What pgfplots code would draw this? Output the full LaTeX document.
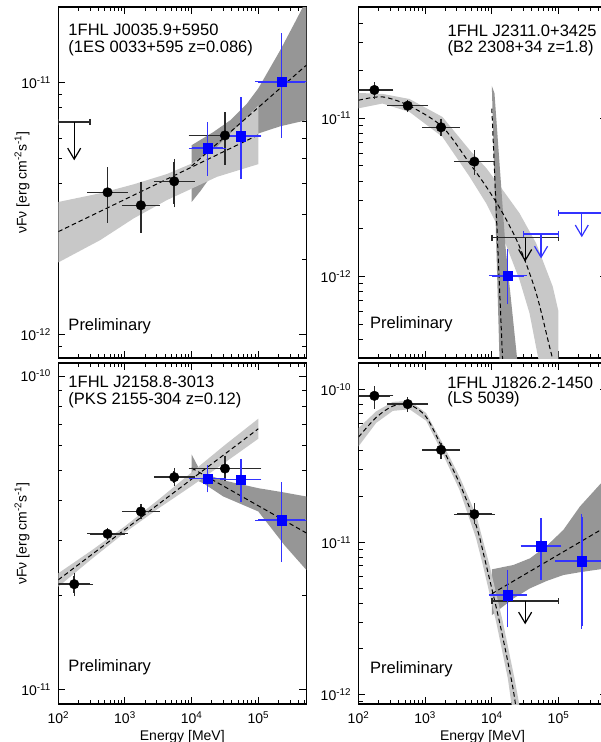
\documentclass[border=0pt]{standalone}
\usepackage{fontspec}
\setmainfont{Liberation Sans}
\usepackage{pgfplots}
\pgfplotsset{compat=1.18}
\usetikzlibrary{arrows.meta}
\definecolor{lband}{HTML}{C8C8C8}
\definecolor{dband}{HTML}{969696}
\definecolor{ebblue}{rgb}{0.2,0.2,1}
\definecolor{ebgray}{HTML}{2A2A2A}

\newcommand{\fsz}[1]{\fontsize{#1}{#1}\selectfont}

\pgfplotsset{
  /pgfplots/sedaxis/.style={
    scale only axis, width=248pt,
    xmin=100, xmax=5.25e5,
    axis line style={line width=1.3pt},
    tick style={black, line width=1pt},
    major tick length=7pt, minor tick length=4pt,
    tick align=inside, xtick pos=both, ytick pos=both,
    xtick={1e2,1e3,1e4,1e5},
    minor xtick={200,300,400,500,600,700,800,900,2000,3000,4000,5000,6000,7000,8000,9000,
      2e4,3e4,4e4,5e4,6e4,7e4,8e4,9e4,2e5,3e5,4e5,5e5},
    tick label style={font=\fsz{14}},
    xticklabel style={yshift=-4pt},
    yticklabel style={xshift=-4pt},
  },
  /pgfplots/toprow/.style={height=351pt, xticklabels={}},
  /pgfplots/botrow/.style={height=341pt,
    xticklabels={10\textsuperscript{2},10\textsuperscript{3},10\textsuperscript{4},10\textsuperscript{5}},
    xlabel={Energy [MeV]},
    xlabel style={at={(axis description cs:0.5,-0.107)}, anchor=base, font=\fsz{14}}},
  /pgfplots/leftcol/.style={
    ylabel={νFν [erg cm\textsuperscript{-2}s\textsuperscript{-1}]},
    ylabel style={at={(axis description cs:-0.146,0.5)}, anchor=center, font=\fsz{14}}},
  /pgfplots/bpts/.style={only marks, mark=*, mark size=4.8pt, black,
    error bars/x dir=both, error bars/x explicit, error bars/y dir=both, error bars/y explicit,
    error bars/error bar style={draw=ebgray, line width=1.5pt},
    error bars/error mark options={draw=ebgray, mark size=3pt, line width=1.3pt}},
  /pgfplots/qpts/.style={only marks, mark=square*, mark size=4.8pt, blue,
    error bars/x dir=both, error bars/x explicit, error bars/y dir=both, error bars/y explicit,
    error bars/error bar style={draw=ebblue, line width=1.5pt},
    error bars/error mark options={draw=ebblue, mark size=3pt, line width=1.3pt}},
  /pgfplots/ulbar/.style={line width=1.5pt, mark=|, mark size=3pt},
  /pgfplots/ularr/.style={line width=1.2pt, -{Straight Barb[length=11pt,width=13pt,line width=1.2pt]}},
  /pgfplots/fitline/.style={black, line width=1pt, dash pattern=on 4.5pt off 3pt},
}

\begin{document}
\begin{tikzpicture}

% ---------- top left: 1FHL J0035.9+5950
\begin{axis}[xmode=log, ymode=log, sedaxis, toprow, leftcol,
  at={(58.3pt,384pt)}, anchor=south west,
  ymin=8.1e-13, ymax=2e-11,
  ytick={1e-12,1e-11},
  yticklabels={10\textsuperscript{-12},10\textsuperscript{-11}},
  minor ytick={9e-13,2e-12,3e-12,4e-12,5e-12,6e-12,7e-12,8e-12,9e-12,2e-11}]
\addplot[fill=dband, draw=none] coordinates {
  (1e4,5.66e-12) (2.13e4,6.39e-12) (3.80e4,7.11e-12) (6.76e4,8.28e-12) (1e5,9.51e-12)
  (2.14e5,1.35e-11) (3.80e5,1.80e-11) (5.25e5,2.13e-11) (5.25e5,7.11e-12) (2.14e5,6.73e-12)
  (1e5,6.30e-12) (5.37e4,5.42e-12) (3.20e4,4.79e-12) (1.91e4,4.23e-12) (1.35e4,3.72e-12)
  (1e4,3.37e-12)};
\addplot[fill=lband, draw=none] coordinates {
  (100,3.37e-12) (427,3.65e-12) (1349,3.96e-12) (4266,4.35e-12) (1.01e4,4.79e-12)
  (2.40e4,5.57e-12) (1e5,8.13e-12) (1e5,4.76e-12) (2.40e4,4.24e-12) (1.01e4,3.81e-12)
  (4266,3.43e-12) (1349,2.90e-12) (427,2.38e-12) (100,1.94e-12)};
\addplot[fitline] coordinates {(100,2.57e-12) (1e5,6.22e-12)};
\addplot[fitline] coordinates {(1e4,4.68e-12) (5.25e5,1.175e-11)};
\addplot[ulbar, ebgray] coordinates {(100,7.0e-12) (300,7.0e-12)};
\addplot[ularr, black] coordinates {(173.2,7.0e-12) (173.2,4.93e-12)};
\addplot[bpts] table[x=x, y=y, x error minus=xm, x error plus=xp, y error minus=ym, y error plus=yp] {
x y xm xp ym yp
547.7 3.68e-12 247.7 452.3 0.82e-12 0.82e-12
1732 3.27e-12 732 1268 0.65e-12 0.68e-12
5477 4.07e-12 2477 4523 0.77e-12 0.79e-12
31623 6.19e-12 21623 68377 1.33e-12 1.25e-12
};
\addplot[qpts] table[x=x, y=y, x error minus=xm, x error plus=xp, y error minus=ym, y error plus=yp] {
x y xm xp ym yp
17321 5.51e-12 7321 12679 1.11e-12 1.28e-12
54772 6.15e-12 24772 45228 1.88e-12 2.39e-12
223607 1.01e-11 123607 276393 3.89e-12 5.2e-12
};
\node[anchor=north west, inner sep=0pt, align=left, font=\fontsize{16.5}{16.7}\selectfont]
  at (axis description cs:0.0403,0.9516) {1FHL J0035.9+5950\\(1ES 0033+595 z=0.086)};
\node[anchor=base west, inner sep=0pt, font=\fsz{16.5}] at (axis description cs:0.0403,0.0798) {Preliminary};
\end{axis}

% ---------- top right: 1FHL J2311.0+3425
\begin{axis}[xmode=log, ymode=log, sedaxis, toprow,
  at={(358.5pt,384pt)}, anchor=south west,
  ymin=3.05e-13, ymax=5.05e-11,
  ytick={1e-12,1e-11},
  yticklabels={10\textsuperscript{-12},10\textsuperscript{-11}},
  minor ytick={4e-13,5e-13,6e-13,7e-13,8e-13,9e-13,2e-12,3e-12,4e-12,5e-12,6e-12,7e-12,8e-12,9e-12,
    2e-11,3e-11,4e-11,5e-11}]
\addplot[fill=lband, draw=none] coordinates {
  (100,1.445e-11) (229,1.426e-11) (582,1.324e-11) (1820,1.019e-11) (4624,6.31e-12)
  (8222,4.85e-12) (14590,3.52e-12) (26000,2.51e-12) (46240,1.62e-12) (82040,8.63e-13)
  (1e5,6.0e-13) (1e5,2e-13) (6.03e4,2e-13) (51880,2.77e-13) (36730,5.86e-13)
  (26000,9.53e-13) (14590,1.79e-12) (8222,2.90e-12) (4624,4.28e-12) (1820,7.62e-12)
  (582,1.096e-11) (229,1.239e-11) (100,1.156e-11)};
\addplot[fill=dband, draw=none] coordinates {
  (1e4,1.6e-11) (1.096e4,1.44e-11) (1.603e4,1.545e-12) (2.51e4,2.5e-13) (1.318e4,2.5e-13)};
\addplot[fitline, smooth] coordinates {
  (100,1.30e-11) (229,1.365e-11) (582,1.197e-11) (1820,8.81e-12) (4624,5.2e-12)
  (8222,3.70e-12) (14590,2.51e-12) (26000,1.545e-12) (46240,7.85e-13) (73280,3.61e-13)
  (89130,2.6e-13)};
\addplot[fitline] coordinates {(1e4,1.15e-11) (1.45e4,3e-13)};
\addplot[ulbar, ebgray] coordinates {(1e4,1.76e-12) (1e5,1.76e-12)};
\addplot[ularr, black] coordinates {(31623,1.76e-12) (31623,1.24e-12)};
\addplot[ulbar, ebblue] coordinates {(3e4,1.85e-12) (1e5,1.85e-12)};
\addplot[ularr, ebblue] coordinates {(54772,1.85e-12) (54772,1.30e-12)};
\addplot[ulbar, ebblue] coordinates {(1e5,2.51e-12) (5e5,2.51e-12)};
\addplot[ularr, ebblue] coordinates {(223607,2.51e-12) (223607,1.77e-12)};
\addplot[bpts] table[x=x, y=y, x error minus=xm, x error plus=xp, y error minus=ym, y error plus=yp] {
x y xm xp ym yp
173.2 1.51e-11 73.2 126.8 0.12e-11 0.11e-11
547.7 1.20e-11 247.7 452.3 0.06e-11 0.05e-11
1732 8.77e-12 732 1268 0.73e-12 0.75e-12
5477 5.32e-12 2477 4523 0.72e-12 0.69e-12
};
\addplot[qpts] table[x=x, y=y, x error minus=xm, x error plus=xp, y error minus=ym, y error plus=yp] {
x y xm xp ym yp
17321 1.01e-12 7321 12679 3.15e-13 4.2e-13
};
\node[anchor=north east, inner sep=0pt, align=left, font=\fontsize{16.5}{15.5}\selectfont]
  at (axis description cs:0.9605,0.9487) {1FHL J2311.0+3425\\(B2 2308+34 z=1.8)};
\node[anchor=base west, inner sep=0pt, font=\fsz{16.5}] at (axis description cs:0.0464,0.0846) {Preliminary};
\end{axis}

% ---------- bottom left: 1FHL J2158.8-3013
\begin{axis}[xmode=log, ymode=log, sedaxis, botrow, leftcol,
  at={(58.3pt,38pt)}, anchor=south west,
  ymin=9e-12, ymax=1.1e-10,
  ytick={1e-11,1e-10},
  yticklabels={10\textsuperscript{-11},10\textsuperscript{-10}},
  minor ytick={2e-11,3e-11,4e-11,5e-11,6e-11,7e-11,8e-11,9e-11}]
\addplot[fill=dband, draw=none] coordinates {
  (1e4,5.62e-11) (1.26e4,5.12e-11) (1.5e4,4.90e-11) (2.99e4,4.65e-11) (1e5,4.39e-11)
  (2.5e5,4.25e-11) (5.25e5,4.13e-11) (5.25e5,2.41e-11) (2.5e5,2.88e-11) (1e5,3.70e-11)
  (2.99e4,4.13e-11) (1.5e4,4.55e-11) (1e4,4.73e-11)};
\addplot[fill=lband, draw=none] coordinates {
  (100,2.35e-11) (316.2,2.78e-11) (1000,3.32e-11) (3162,4.03e-11) (1e4,4.93e-11)
  (31623,6.03e-11) (1e5,7.31e-11) (1e5,6.31e-11) (31623,5.30e-11) (1e4,4.46e-11)
  (3162,3.78e-11) (1000,3.17e-11) (316.2,2.61e-11) (100,2.13e-11)};
\addplot[fitline] coordinates {(100,2.24e-11) (1e5,6.79e-11)};
\addplot[fitline] coordinates {(1e4,5.09e-11) (5.25e5,3.16e-11)};
\addplot[bpts] table[x=x, y=y, x error minus=xm, x error plus=xp, y error minus=ym, y error plus=yp] {
x y xm xp ym yp
173.2 2.17e-11 73.2 126.8 0.14e-11 0.14e-11
547.7 3.14e-11 247.7 452.3 0.07e-11 0.07e-11
1732 3.70e-11 732 1268 0.11e-11 0.11e-11
5477 4.76e-11 2477 4523 0.20e-11 0.21e-11
31623 5.07e-11 21623 68377 0.34e-11 0.38e-11
};
\addplot[qpts] table[x=x, y=y, x error minus=xm, x error plus=xp, y error minus=ym, y error plus=yp] {
x y xm xp ym yp
17321 4.71e-11 7321 12679 0.36e-11 0.38e-11
54772 4.67e-11 24772 45228 0.61e-11 0.65e-11
223607 3.47e-11 123607 276393 0.86e-11 1.01e-11
};
\node[anchor=north west, inner sep=0pt, align=left, font=\fontsize{16.5}{16.7}\selectfont]
  at (axis description cs:0.0403,0.9619) {1FHL J2158.8-3013\\(PKS 2155-304 z=0.12)};
\node[anchor=base west, inner sep=0pt, font=\fsz{16.5}] at (axis description cs:0.0403,0.0947) {Preliminary};
\end{axis}

% ---------- bottom right: 1FHL J1826.2-1450
\begin{axis}[xmode=log, ymode=log, sedaxis, botrow,
  at={(358.5pt,38pt)}, anchor=south west,
  ymin=8.7e-13, ymax=1.5e-10,
  ytick={1e-12,1e-11,1e-10},
  yticklabels={10\textsuperscript{-12},10\textsuperscript{-11},10\textsuperscript{-10}},
  minor ytick={9e-13,2e-12,3e-12,4e-12,5e-12,6e-12,7e-12,8e-12,9e-12,
    2e-11,3e-11,4e-11,5e-11,6e-11,7e-11,8e-11,9e-11}]
\addplot[fill=dband, draw=none] coordinates {
  (1e4,6.65e-12) (2.10e4,7.10e-12) (3.73e4,7.85e-12) (6.65e4,9.48e-12) (1.18e5,1.205e-11)
  (2.10e5,1.72e-11) (4.34e5,2.44e-11) (5.25e5,2.72e-11) (5.25e5,6.75e-12) (4.34e5,6.67e-12)
  (2.10e5,6.37e-12) (1.18e5,6.10e-12) (6.65e4,5.58e-12) (3.73e4,4.99e-12) (2.10e4,4.28e-12)
  (1e4,3.33e-12)};
\addplot[fill=lband, draw=none] coordinates {
  (100,5.61e-11) (184,7.23e-11) (327,8.34e-11) (582,8.47e-11) (1035,7.05e-11)
  (1841,4.42e-11) (3273,2.70e-11) (5821,1.51e-11) (9226,7.10e-12) (14620,3.01e-12)
  (21880,1.28e-12) (25410,8.97e-13) (27540,7.08e-13) (21380,7.08e-13) (19500,8.97e-13)
  (17380,1.28e-12) (11610,3.01e-12) (7328,7.10e-12) (5821,1.06e-11) (3273,2.21e-11)
  (1841,3.79e-11) (1035,6.27e-11) (582,7.46e-11) (327,7.28e-11) (184,6.07e-11)
  (100,4.26e-11)};
\addplot[fitline, smooth] coordinates {
  (100,4.90e-11) (184,6.59e-11) (327,7.82e-11) (582,7.98e-11) (1035,6.64e-11)
  (1841,4.09e-11) (3273,2.44e-11) (5821,1.29e-11) (8222,7.10e-12) (13030,3.01e-12)
  (19500,1.28e-12) (22390,8.97e-13) (23990,7.08e-13)};
\addplot[fitline] coordinates {(1e4,4.6e-12) (5.25e5,1.27e-11)};
\addplot[ulbar, ebgray] coordinates {(1e4,4.11e-12) (1e5,4.11e-12)};
\addplot[ularr, black] coordinates {(31623,4.11e-12) (31623,2.90e-12)};
\addplot[bpts] table[x=x, y=y, x error minus=xm, x error plus=xp, y error minus=ym, y error plus=yp] {
x y xm xp ym yp
173.2 9.14e-11 73.2 126.8 1.27e-11 0.96e-11
547.7 8.07e-11 247.7 452.3 0.55e-11 0.54e-11
1732 4.04e-11 732 1268 0.33e-11 0.27e-11
5477 1.53e-11 2477 4523 0.16e-11 0.19e-11
};
\addplot[qpts] table[x=x, y=y, x error minus=xm, x error plus=xp, y error minus=ym, y error plus=yp] {
x y xm xp ym yp
17321 4.51e-12 7321 12679 1.61e-12 1.81e-12
54772 9.46e-12 24772 45228 3.52e-12 4.24e-12
223607 7.54e-12 123607 276393 4.70e-12 7.06e-12
};
\node[anchor=north east, inner sep=0pt, align=left, font=\fontsize{16.5}{15.5}\selectfont]
  at (axis description cs:0.9468,0.9598) {1FHL J1826.2-1450\\(LS 5039)};
\node[anchor=base west, inner sep=0pt, font=\fsz{16.5}] at (axis description cs:0.0464,0.090) {Preliminary};
\end{axis}

\pgfresetboundingbox
\path[use as bounding box] (0pt,0pt) rectangle (601pt,742pt);
\end{tikzpicture}
\end{document}
